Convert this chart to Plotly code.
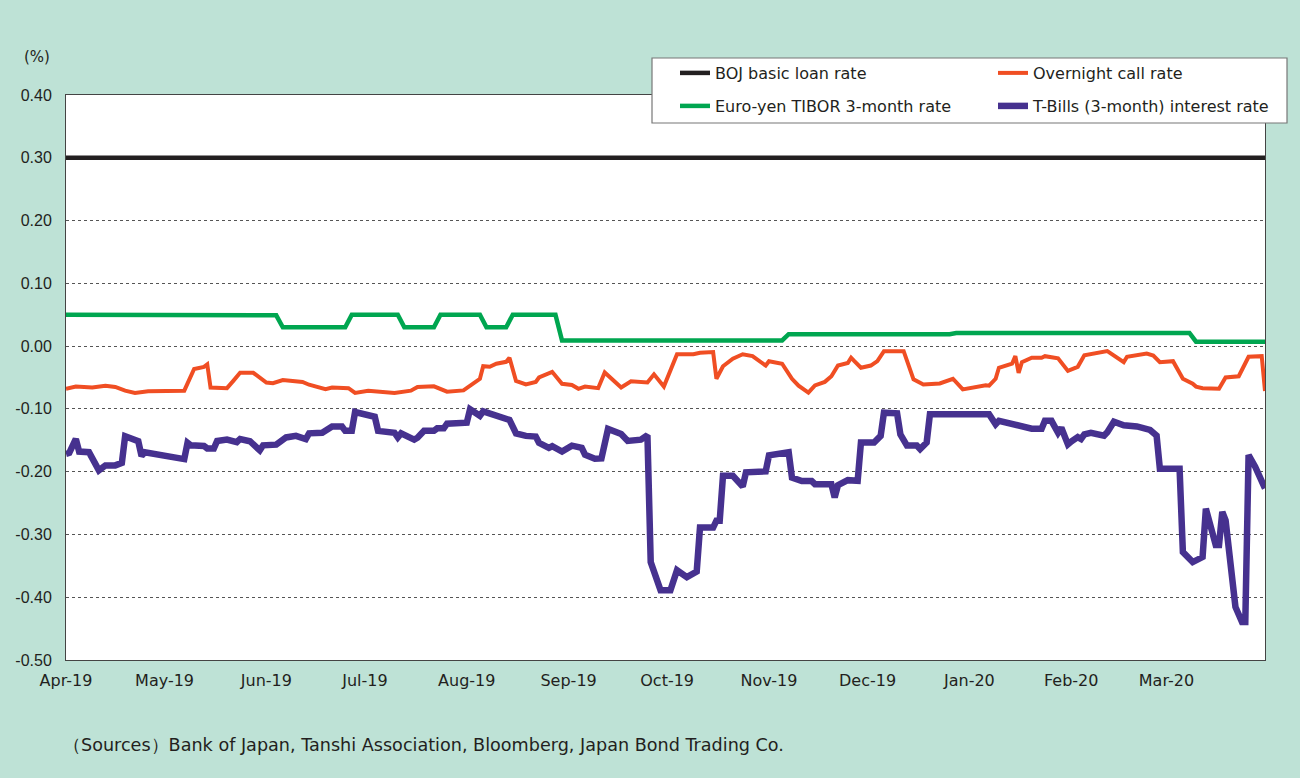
import plotly.graph_objects as go

# ---------------- data ----------------
boj_dates = ["2019-04-01", "2020-03-31"]
boj_values = [0.30, 0.30]

call_dates = [
    "2019-04-01", "2019-04-04", "2019-04-09", "2019-04-13", "2019-04-16", "2019-04-19", "2019-04-22",
    "2019-04-26", "2019-05-07", "2019-05-10", "2019-05-13", "2019-05-14", "2019-05-15", "2019-05-20",
    "2019-05-22", "2019-05-24", "2019-05-28", "2019-06-01", "2019-06-03", "2019-06-06", "2019-06-12",
    "2019-06-14", "2019-06-19", "2019-06-21", "2019-06-26", "2019-06-28", "2019-07-02", "2019-07-06",
    "2019-07-10", "2019-07-15", "2019-07-17", "2019-07-22", "2019-07-26", "2019-07-31", "2019-08-02",
    "2019-08-05", "2019-08-06", "2019-08-08", "2019-08-10", "2019-08-13", "2019-08-14", "2019-08-16",
    "2019-08-19", "2019-08-22", "2019-08-23", "2019-08-25", "2019-08-27", "2019-08-30", "2019-09-02",
    "2019-09-04", "2019-09-06", "2019-09-10", "2019-09-12", "2019-09-17", "2019-09-20", "2019-09-25",
    "2019-09-27", "2019-09-30", "2019-10-02", "2019-10-04", "2019-10-09", "2019-10-11", "2019-10-15",
    "2019-10-16", "2019-10-18", "2019-10-21", "2019-10-24", "2019-10-27", "2019-10-31", "2019-11-01",
    "2019-11-05", "2019-11-08", "2019-11-10", "2019-11-12", "2019-11-13", "2019-11-15", "2019-11-18",
    "2019-11-20", "2019-11-22", "2019-11-25", "2019-11-26", "2019-11-27", "2019-11-29", "2019-12-02",
    "2019-12-04", "2019-12-06", "2019-12-12", "2019-12-15", "2019-12-18", "2019-12-23", "2019-12-27",
    "2019-12-30", "2020-01-03", "2020-01-06", "2020-01-07", "2020-01-09", "2020-01-10", "2020-01-14",
    "2020-01-15", "2020-01-16", "2020-01-17", "2020-01-20", "2020-01-23", "2020-01-24", "2020-01-28",
    "2020-01-31", "2020-02-03", "2020-02-05", "2020-02-12", "2020-02-17", "2020-02-18", "2020-02-24",
    "2020-02-26", "2020-02-28", "2020-03-03", "2020-03-06", "2020-03-09", "2020-03-10", "2020-03-12",
    "2020-03-17", "2020-03-19", "2020-03-23", "2020-03-26", "2020-03-30", "2020-03-31",
]
call_values = [
    -0.068, -0.0645, -0.066, -0.063, -0.065, -0.071, -0.0745,
    -0.072, -0.071, -0.0365, -0.033, -0.029, -0.066, -0.067,
    -0.055, -0.0425, -0.0425, -0.058, -0.059, -0.054, -0.057,
    -0.0615, -0.0685, -0.066, -0.067, -0.0745, -0.071, -0.072,
    -0.0745, -0.071, -0.065, -0.064, -0.0725, -0.0705, -0.0625,
    -0.052, -0.032, -0.033, -0.028, -0.025, -0.0185, -0.0555,
    -0.061, -0.057, -0.050, -0.046, -0.041, -0.060, -0.062,
    -0.068, -0.0645, -0.067, -0.042, -0.066, -0.056, -0.058,
    -0.045, -0.0645, -0.037, -0.013, -0.013, -0.0105, -0.0095,
    -0.052, -0.032, -0.020, -0.013, -0.016, -0.031, -0.024,
    -0.028, -0.052, -0.063, -0.071, -0.074, -0.0625, -0.057,
    -0.048, -0.031, -0.027, -0.0185, -0.024, -0.0345, -0.031,
    -0.024, -0.008, -0.008, -0.053, -0.061, -0.0595, -0.052,
    -0.069, -0.0645, -0.0625, -0.063, -0.052, -0.0345, -0.028,
    -0.016, -0.0425, -0.0255, -0.0185, -0.0185, -0.016, -0.0195,
    -0.0395, -0.033, -0.0145, -0.008, -0.0255, -0.017, -0.012,
    -0.015, -0.0255, -0.024, -0.052, -0.060, -0.0645, -0.067,
    -0.068, -0.050, -0.048, -0.017, -0.016, -0.0715,
]

tibor_dates = [
    "2019-04-01", "2019-05-29", "2019-06-04", "2019-06-06", "2019-06-25", "2019-06-27",
    "2019-07-11", "2019-07-13", "2019-07-22", "2019-07-24", "2019-08-05", "2019-08-07",
    "2019-08-13", "2019-08-15", "2019-08-28", "2019-08-30", "2019-11-05", "2019-11-07",
    "2019-12-26", "2019-12-28", "2020-03-08", "2020-03-10", "2020-03-31",
]
tibor_values = [
    0.050, 0.050, 0.049, 0.030, 0.030, 0.050,
    0.050, 0.030, 0.030, 0.050, 0.050, 0.030,
    0.030, 0.050, 0.050, 0.009, 0.009, 0.019,
    0.019, 0.021, 0.021, 0.007, 0.007,
]

tbill_dates = [
    "2019-04-01", "2019-04-02", "2019-04-04", "2019-04-05", "2019-04-08", "2019-04-11", "2019-04-13",
    "2019-04-16", "2019-04-18", "2019-04-19", "2019-04-23", "2019-04-24", "2019-04-25", "2019-05-07",
    "2019-05-08", "2019-05-09", "2019-05-13", "2019-05-14", "2019-05-16", "2019-05-17", "2019-05-20",
    "2019-05-23", "2019-05-24", "2019-05-27", "2019-05-30", "2019-05-31", "2019-06-04", "2019-06-07",
    "2019-06-10", "2019-06-13", "2019-06-14", "2019-06-18", "2019-06-21", "2019-06-24", "2019-06-25",
    "2019-06-27", "2019-06-28", "2019-07-01", "2019-07-02", "2019-07-04", "2019-07-05", "2019-07-10",
    "2019-07-11", "2019-07-12", "2019-07-16", "2019-07-17", "2019-07-19", "2019-07-22", "2019-07-23",
    "2019-07-25", "2019-07-26", "2019-08-01", "2019-08-02", "2019-08-05", "2019-08-06", "2019-08-08",
    "2019-08-10", "2019-08-14", "2019-08-16", "2019-08-19", "2019-08-22", "2019-08-23", "2019-08-26",
    "2019-08-27", "2019-08-30", "2019-09-02", "2019-09-05", "2019-09-06", "2019-09-09", "2019-09-11",
    "2019-09-13", "2019-09-17", "2019-09-19", "2019-09-23", "2019-09-25", "2019-09-26", "2019-09-29",
    "2019-10-02", "2019-10-04", "2019-10-07", "2019-10-10", "2019-10-11", "2019-10-15", "2019-10-16",
    "2019-10-17", "2019-10-18", "2019-10-21", "2019-10-24", "2019-10-25", "2019-10-31", "2019-11-01",
    "2019-11-07", "2019-11-08", "2019-11-11", "2019-11-14", "2019-11-15", "2019-11-20", "2019-11-21",
    "2019-11-22", "2019-11-25", "2019-11-28", "2019-11-29", "2019-12-03", "2019-12-05", "2019-12-06",
    "2019-12-10", "2019-12-11", "2019-12-13", "2019-12-16", "2019-12-17", "2019-12-19", "2019-12-20",
    "2020-01-07", "2020-01-09", "2020-01-10", "2020-01-13", "2020-01-20", "2020-01-23", "2020-01-24",
    "2020-01-26", "2020-01-28", "2020-01-29", "2020-01-31", "2020-02-01", "2020-02-03", "2020-02-04",
    "2020-02-05", "2020-02-07", "2020-02-11", "2020-02-12", "2020-02-14", "2020-02-17", "2020-02-21",
    "2020-02-25", "2020-02-27", "2020-02-28", "2020-03-05", "2020-03-06", "2020-03-09", "2020-03-12",
    "2020-03-13", "2020-03-16", "2020-03-17", "2020-03-18", "2020-03-19", "2020-03-22", "2020-03-24",
    "2020-03-25", "2020-03-26", "2020-03-28", "2020-03-31",
]
tbill_values = [
    -0.1715, -0.170, -0.148, -0.168, -0.169, -0.198, -0.190,
    -0.190, -0.186, -0.1435, -0.1515, -0.175, -0.169, -0.180,
    -0.154, -0.158, -0.159, -0.163, -0.163, -0.151, -0.149,
    -0.153, -0.148, -0.1515, -0.166, -0.158, -0.157, -0.1455,
    -0.143, -0.148, -0.139, -0.138, -0.128, -0.128, -0.135,
    -0.135, -0.105, -0.109, -0.1125, -0.1125, -0.135, -0.138,
    -0.1455, -0.139, -0.149, -0.146, -0.135, -0.135, -0.131,
    -0.131, -0.1235, -0.122, -0.1005, -0.111, -0.104, -0.107,
    -0.112, -0.1175, -0.139, -0.143, -0.144, -0.154, -0.162,
    -0.1595, -0.168, -0.1585, -0.162, -0.173, -0.1795, -0.179,
    -0.132, -0.140, -0.151, -0.149, -0.142, -0.344, -0.389,
    -0.389, -0.357, -0.368, -0.359, -0.289, -0.289, -0.278,
    -0.278, -0.2065, -0.2065, -0.2235, -0.201, -0.1995, -0.174,
    -0.169, -0.2095, -0.215, -0.215, -0.220, -0.220, -0.241,
    -0.2215, -0.2135, -0.2145, -0.1535, -0.1535, -0.143, -0.106,
    -0.107, -0.1405, -0.1585, -0.1585, -0.164, -0.1535, -0.1085,
    -0.1085, -0.1245, -0.119, -0.122, -0.1315, -0.1315, -0.119,
    -0.119, -0.138, -0.130, -0.1565, -0.152, -0.145, -0.148,
    -0.1405, -0.138, -0.1425, -0.137, -0.1205, -0.126, -0.128,
    -0.1335, -0.1425, -0.1955, -0.1955, -0.328, -0.344, -0.336,
    -0.259, -0.317, -0.317, -0.264, -0.2775, -0.4155, -0.4395,
    -0.4395, -0.1735, -0.192, -0.2265,
]

series_names = [
    "BOJ basic loan rate",
    "Overnight call rate",
    "Euro-yen TIBOR 3-month rate",
    "T-Bills (3-month) interest rate",
]
y_ticks = [0.4, 0.3, 0.2, 0.1, 0.0, -0.1, -0.2, -0.3, -0.4, -0.5]
y_tick_labels = ["0.40", "0.30", "0.20", "0.10", "0.00", "-0.10", "-0.20", "-0.30", "-0.40", "-0.50"]
unit_text = "(%)"
source_text = "（Sources）Bank of Japan, Tanshi Association, Bloomberg, Japan Bond Trading Co."

# ---------------- style ----------------
BG = "#bee2d6"
TXT = "#231f20"
WIDE = "DejaVu Sans, Verdana, sans-serif"
NARROW = "Liberation Sans, Arial, sans-serif"

fig = go.Figure()

fig.add_trace(go.Scatter(x=tbill_dates, y=tbill_values, mode="lines", name=series_names[3],
                         line=dict(color="#46318f", width=6.5), legend="legend2", legendrank=4))
fig.add_trace(go.Scatter(x=call_dates, y=call_values, mode="lines", name=series_names[1],
                         line=dict(color="#f04e23", width=4), legend="legend", legendrank=2))
fig.add_trace(go.Scatter(x=tibor_dates, y=tibor_values, mode="lines", name=series_names[2],
                         line=dict(color="#00a650", width=4.5), legend="legend2", legendrank=3))
fig.add_trace(go.Scatter(x=boj_dates, y=boj_values, mode="lines", name=series_names[0],
                         line=dict(color="#231f20", width=4.5), legend="legend", legendrank=1))

L, R, T, B = 66, 35, 95, 118
W, H = 1300, 778
pw, ph = W - L - R, H - T - B

def px(xp):
    return (xp - L) / pw

def py(yp):
    return (H - B - yp) / ph

legend_common = dict(
    orientation="h", xanchor="left", yanchor="middle",
    bgcolor="rgba(0,0,0,0)", borderwidth=0,
    font=dict(family=WIDE, size=16, color=TXT),
    entrywidth=273, entrywidthmode="pixels", traceorder="normal",
)

fig.update_layout(
    width=W, height=H, autosize=False,
    margin=dict(l=L, r=R, t=T, b=B, pad=0, autoexpand=False),
    paper_bgcolor=BG, plot_bgcolor="white",
    font=dict(family=WIDE, size=16, color=TXT),
    showlegend=True,
    legend=dict(x=px(675), y=py(73), **legend_common),
    legend2=dict(x=px(675), y=py(106), **legend_common),
    xaxis=dict(
        type="date", range=["2019-04-01", "2020-03-31"],
        dtick="M1", tick0="2019-04-01", tickformat="%b-%y",
        showgrid=False, zeroline=False,
        showline=True, linecolor="#444", linewidth=1, mirror=True,
        ticks="", ticklabelstandoff=6, automargin=False,
        tickfont=dict(family=WIDE, size=16, color=TXT),
    ),
    yaxis=dict(
        range=[-0.5, 0.4], tickvals=y_ticks, ticktext=y_tick_labels,
        showgrid=True, gridcolor="#555", gridwidth=1, griddash="dot",
        zeroline=False,
        showline=True, linecolor="#444", linewidth=1, mirror=True,
        ticks="", ticklabelstandoff=10, automargin=False,
        tickfont=dict(family=NARROW, size=16, color=TXT),
    ),
    shapes=[dict(
        type="rect", xref="paper", yref="paper",
        x0=px(652), x1=px(1287), y0=py(123), y1=py(58),
        fillcolor="white", line=dict(color="#777", width=1.2), layer="above",
    )],
    annotations=[
        dict(text=unit_text, xref="paper", yref="paper", x=px(37), y=py(57),
             xanchor="center", yanchor="middle", showarrow=False,
             font=dict(family=WIDE, size=15, color=TXT)),
        dict(text=source_text, xref="paper", yref="paper", x=px(423), y=py(745),
             xanchor="center", yanchor="middle", showarrow=False,
             font=dict(family=WIDE, size=17.6, color=TXT)),
    ],
)

post_js = (
    "document.documentElement.style.margin='0';"
    "document.body.style.margin='0';"
    "document.body.style.overflow='hidden';"
    "var gd=document.getElementById('{plot_id}');"
    "gd.style.width='1300px';gd.style.height='778px';"
    "return Plotly.relayout(gd,{width:1300,height:778});"
)

fig.write_html("out.html", config={"responsive": False, "displayModeBar": False},
               post_script=post_js)
